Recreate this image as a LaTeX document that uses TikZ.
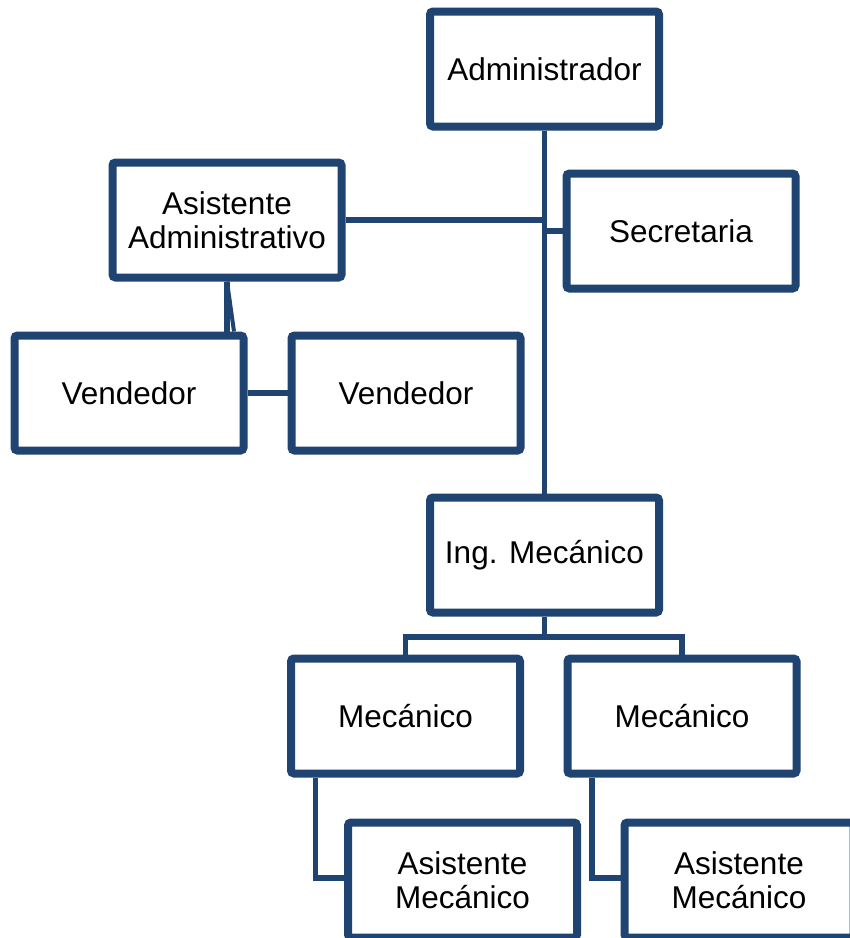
\documentclass[tikz,border=0pt]{standalone}
\usepackage{fontspec}
\setmainfont{Liberation Sans}
\usetikzlibrary{shadows}
\definecolor{azul}{RGB}{31,68,114}
\begin{document}
\begin{tikzpicture}[x=1pt, y=-1pt,
   cargo/.style={draw=azul, line width=8pt, fill=white, rounded corners=3pt,
      minimum width=229pt, minimum height=115pt, inner sep=0pt, align=center,
      font=\fontsize{31.5}{34}\selectfont,
      drop shadow={opacity=0.3, shadow xshift=2pt, shadow yshift=-2.5pt}},
   enlace/.style={draw=azul, line width=5.5pt}]

\clip (0,0) rectangle (850,938);
\useasboundingbox (0,0) rectangle (850,938);

\node[cargo] (admin) at (544.5,69) {Administrador};
\node[cargo] (asist) at (227,220) {Asistente\\Administrativo};
\node[cargo] (secre) at (681,231) {Secretaria};
\node[cargo] (vend1) at (129,393) {Vendedor};
\node[cargo] (vend2) at (406,393) {Vendedor};
\node[cargo] (ing) at (544.5,555) {Ing. Mecánico};
\node[cargo] (mec1) at (405.5,716) {Mecánico};
\node[cargo] (mec2) at (682,716) {Mecánico};
\node[cargo] (asme1) at (462.5,880) {Asistente\\Mecánico};
\node[cargo] (asme2) at (739,880) {Asistente\\Mecánico};

\draw[enlace] (admin.south) -- (ing.north);
\draw[enlace] (asist.east) -- (asist.east -| admin.south);
\draw[enlace] (secre.west) -- (secre.west -| admin.south);
\draw[enlace] (asist.south) -- (asist.south |- vend1.north);
\draw[enlace, line width=4pt] (asist.south) -- ([xshift=7pt]asist.south |- vend1.north);
\draw[enlace] (vend1) -- (vend2);

\coordinate (barra) at (544.5,637);
\draw[enlace] (ing.south) -- (barra) -| (mec1.north);
\draw[enlace] (barra) -| (mec2.north);
\draw[enlace] ([xshift=-90pt]mec1.south) |- ([yshift=2pt]asme1.west);
\draw[enlace] ([xshift=-90pt]mec2.south) |- ([yshift=2pt]asme2.west);

\end{tikzpicture}
\end{document}
